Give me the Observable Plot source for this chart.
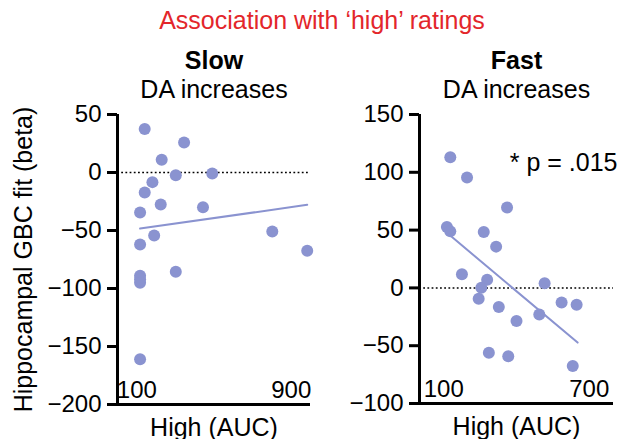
<!DOCTYPE html>
<html><head><meta charset="utf-8">
<script src="https://cdn.jsdelivr.net/npm/d3@7"></script>
<script src="https://cdn.jsdelivr.net/npm/@observablehq/plot@0.6"></script>
<style>
body{margin:0;background:#fff;}
#wrap{position:relative;width:621px;height:439px;overflow:hidden;font-family:"Liberation Sans",Arial,Helvetica,sans-serif;}
#title{position:absolute;left:0;width:644px;top:5px;text-align:center;color:#e3262b;font-size:25px;line-height:30px;}
.panel{position:absolute;top:40px;}
</style></head><body>
<div id="wrap"><div id="title"></div><div id="left" class="panel" style="left:0"></div><div id="right" class="panel" style="left:320px"></div></div>
<script>
const mainTitle = "Association with \u2018high\u2019 ratings";
const panelTitles = ["Slow", "Fast"];
const panelSubtitle = "DA increases";
const yLabel = "Hippocampal GBC fit (beta)";
const xLabel = "High (AUC)";
const pLabel = "* p = .015";

// Slow panel
const slowX = [141, 345, 229, 302, 491, 181, 141, 224, 443, 117, 190, 117, 802, 983, 302, 117, 117, 117, 117];
const slowY = [37.4, 25.9, 11, -2.3, -0.9, -8.3, -17.2, -27.6, -29.9, -34.5, -54.3, -62, -50.9, -67.5, -85.6, -89, -92, -95, -161];
const slowFitX = [117, 983];
const slowFitY = [-48.3, -27.9];
const slowYTicks = [50, 0, -50, -100, -150, -200];
const slowXTicks = [100, 900];

// Fast panel
const fastX = [127, 196, 361, 113, 127, 265, 316, 175, 279, 255, 516, 244, 327, 586, 648, 400, 494, 286, 366, 632];
const fastY = [113.1, 95.6, 69.6, 52.6, 48.9, 48.3, 35.7, 11.8, 7.1, 0.2, 4, -9.3, -16.5, -12.7, -14.5, -28.6, -23.1, -56.2, -59.1, -67.5];
const fastFitX = [117, 652];
const fastFitY = [47, -47.3];
const fastYTicks = [150, 100, 50, 0, -50, -100];
const fastXTicks = [100, 700];

const dotColor = "#8a93d0";
const font = '"Liberation Sans", Arial, Helvetica, sans-serif';

document.getElementById("title").textContent = mainTitle;

function panel({xs, ys, fx, fy, xDomain, yTicks, xTicks, title, width, marginLeft, marginRight, marginBottom, showYLabel, extra}) {
  const pts = xs.map((x, i) => ({x, y: ys[i]}));
  const fit = fx.map((x, i) => ({x, y: fy[i]}));
  const yMin = d3.min(yTicks), yMax = d3.max(yTicks);
  const marks = [
    Plot.ruleY([0], {stroke: "#000", strokeWidth: 1.5, strokeDasharray: "1.8,2.4"}),
    Plot.axisY(yTicks, {tickSize: 10, tickPadding: 6, strokeWidth: 3, fontSize: 24, label: null}),
    Plot.axisX(xTicks, {tickSize: 0, tickPadding: 0, lineAnchor: "bottom", dy: -7, fontSize: 24, label: null}),
    Plot.ruleX([0], {stroke: "#000", strokeWidth: 3}),
    Plot.ruleY([yMin], {stroke: "#000", strokeWidth: 3}),
    Plot.line(fit, {x: "x", y: "y", stroke: dotColor, strokeWidth: 2}),
    Plot.dot(pts, {x: "x", y: "y", r: 6, fill: dotColor, stroke: null}),
    Plot.text([title], {frameAnchor: "top", dy: -46, lineAnchor: "bottom", fontWeight: "bold", fontSize: 25}),
    Plot.text([panelSubtitle], {frameAnchor: "top", dy: -17, lineAnchor: "bottom", fontSize: 25}),
    Plot.text([xLabel], {frameAnchor: "bottom", dy: 31, lineAnchor: "bottom", fontSize: 25})
  ];
  if (showYLabel) marks.push(Plot.text([yLabel], {frameAnchor: "left", textAnchor: "middle", lineAnchor: "middle", rotate: -90, dx: -94, fontSize: 25}));
  if (extra) marks.push(extra);
  return Plot.plot({
    width, height: 399, marginLeft, marginRight, marginTop: 74, marginBottom,
    style: {fontFamily: font, fontSize: "24px", color: "#000", background: "transparent", overflow: "visible"},
    x: {domain: xDomain},
    y: {domain: [yMin, yMax]},
    marks
  });
}

document.getElementById("left").append(panel({
  xs: slowX, ys: slowY, fx: slowFitX, fy: slowFitY, xDomain: [0, 1000],
  yTicks: slowYTicks, xTicks: slowXTicks, title: panelTitles[0],
  width: 320, marginLeft: 117, marginRight: 10, marginBottom: 35, showYLabel: true
}));
document.getElementById("right").append(panel({
  xs: fastX, ys: fastY, fx: fastFitX, fy: fastFitY, xDomain: [0, 800],
  yTicks: fastYTicks, xTicks: fastXTicks, title: panelTitles[1],
  width: 301, marginLeft: 99, marginRight: 8, marginBottom: 36, showYLabel: false,
  extra: Plot.text([pLabel], {frameAnchor: "top-right", dx: 4, dy: 56, textAnchor: "end", lineAnchor: "bottom", fontSize: 25})
}));
</script>
</body></html>
